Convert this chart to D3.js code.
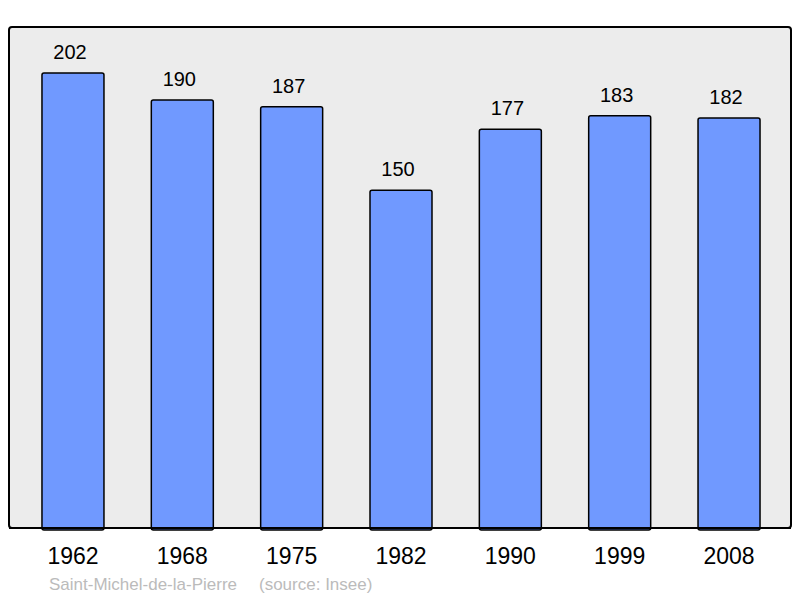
<!DOCTYPE html>
<meta charset="utf-8">
<head>
    <title>Population</title>
    <style>
      body { margin: 0; background: #fff; }
      text { font-family: "Liberation Sans", Arial, sans-serif; }
    </style>
</head>
<body>
    <script src="https://d3js.org/d3.v7.min.js"></script>
    <div id="chart"></div>
    <script>

        var years = ['1962', '1968', '1975', '1982', '1990', '1999', '2008'];
        var population = [202, 190, 187, 150, 177, 183, 182];
        var commune = 'Saint-Michel-de-la-Pierre';
        var source = '(source: Insee)';

        var width = 800;
        var height = 598;

        var svg = d3.select('#chart')
          .append('svg')
          .attr('width', width)
          .attr('height', height);

        // grey panel behind the bars
        svg.append('rect')
          .attr('x', 9)
          .attr('y', 27)
          .attr('width', 782)
          .attr('height', 501)
          .attr('rx', 3)
          .attr('fill', '#ececec')
          .attr('stroke', '#000')
          .attr('stroke-width', 2);

        var x = d3.scaleBand()
          .domain(years)
          .range([18.3, 783.7])
          .paddingInner(0.433)
          .paddingOuter(0.2165);

        var y = d3.scaleLinear()
          .domain([0, 202])
          .range([528, 73]);

        var data = years.map(function(d, i) {
          return { year: d, value: population[i] };
        });

        svg.selectAll('rect.bar')
          .data(data)
          .enter()
          .append('rect')
          .attr('class', 'bar')
          .attr('x', function(d) { return x(d.year); })
          .attr('y', function(d) { return y(d.value); })
          .attr('width', x.bandwidth())
          .attr('height', function(d) { return y(0) - y(d.value) + 2; })
          .attr('rx', 2)
          .attr('fill', '#7099ff')
          .attr('stroke', '#000')
          .attr('stroke-width', 1.5);

        // redraw the panel bottom over the bar ends
        svg.append('line')
          .attr('x1', 9).attr('x2', 791)
          .attr('y1', 528).attr('y2', 528)
          .attr('stroke', '#000')
          .attr('stroke-width', 2);

        svg.selectAll('text.value')
          .data(data)
          .enter()
          .append('text')
          .attr('class', 'value')
          .attr('x', function(d) { return x(d.year) + x.bandwidth() / 2 - 3; })
          .attr('y', function(d) { return y(d.value) - 14; })
          .attr('text-anchor', 'middle')
          .attr('font-size', 20)
          .attr('fill', '#000')
          .text(function(d) { return d.value; });

        svg.selectAll('text.year')
          .data(years)
          .enter()
          .append('text')
          .attr('class', 'year')
          .attr('x', function(d) { return x(d) + x.bandwidth() / 2; })
          .attr('y', 564)
          .attr('text-anchor', 'middle')
          .attr('font-size', 23)
          .attr('fill', '#000')
          .text(function(d) { return d; });

        svg.append('text')
          .attr('x', 49)
          .attr('y', 590)
          .attr('font-size', 17)
          .attr('fill', '#bbbbbb')
          .text(commune);

        svg.append('text')
          .attr('x', 259)
          .attr('y', 590)
          .attr('font-size', 17)
          .attr('fill', '#bbbbbb')
          .text(source);
  </script>
</body>
